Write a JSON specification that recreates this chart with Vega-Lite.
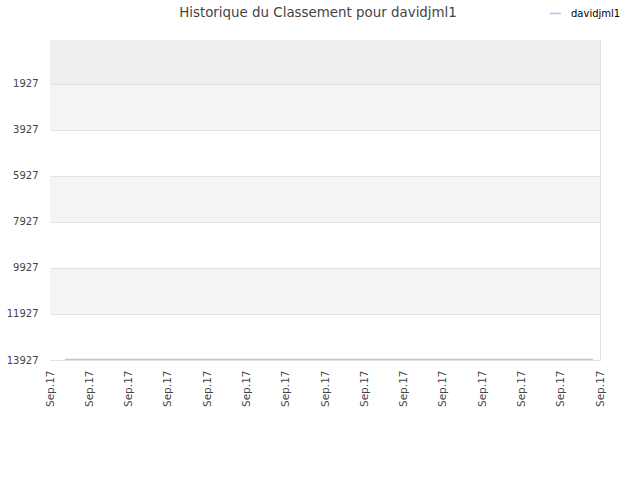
{
  "$schema": "https://vega.github.io/schema/vega-lite/v6.json",
  "autosize": {"type": "none"},
  "width": 550,
  "height": 320,
  "padding": {"left": 50, "top": 40, "right": 40, "bottom": 120},
  "background": "white",
  "config": {
    "view": {"stroke": "#dddddd", "strokeWidth": 1},
    "font": "DejaVu Sans"
  },
  "title": {
    "text": "Historique du Classement pour davidjml1",
    "anchor": "middle",
    "frame": "group",
    "dx": -7,
    "offset": -12,
    "fontSize": 13.4,
    "fontWeight": "normal",
    "color": "#444444",
    "font": "DejaVu Sans"
  },
  "resolve": {"scale": {"color": "independent"}},
  "layer": [
    {
      "data": {
        "values": [
          {"top": 14, "bottom": 1927, "band": "a"},
          {"top": 1927, "bottom": 3927, "band": "b"},
          {"top": 3927, "bottom": 5927, "band": "c"},
          {"top": 5927, "bottom": 7927, "band": "b"},
          {"top": 7927, "bottom": 9927, "band": "c"},
          {"top": 9927, "bottom": 11927, "band": "b"},
          {"top": 11927, "bottom": 13927, "band": "c"}
        ]
      },
      "mark": {"type": "rect", "strokeWidth": 0},
      "encoding": {
        "y": {
          "field": "top", "type": "quantitative",
          "scale": {"domain": [14, 13927], "reverse": true, "nice": false, "zero": false},
          "axis": {
            "values": [1927, 3927, 5927, 7927, 9927, 11927, 13927],
            "format": "d",
            "labelFontSize": 10,
            "labelColor": "#444444",
            "labelFont": "DejaVu Sans",
            "labelPadding": 12,
            "labelBaseline": "middle",
            "grid": true,
            "gridColor": "#e2e2e2",
            "gridWidth": 1,
            "ticks": false,
            "domain": false,
            "title": null,
            "zindex": 1
          }
        },
        "y2": {"field": "bottom"},
        "color": {"field": "band", "type": "nominal", "scale": {"domain": ["a", "b", "c"], "range": ["#eeeeee", "#f4f4f4", "#ffffff"]}, "legend": null}
      }
    },
    {
      "data": {
        "values": [
          {"t": 0.38, "rank": 13905, "joueur": "davidjml1"},
          {"t": 1, "rank": 13905, "joueur": "davidjml1"},
          {"t": 2, "rank": 13905, "joueur": "davidjml1"},
          {"t": 3, "rank": 13905, "joueur": "davidjml1"},
          {"t": 4, "rank": 13905, "joueur": "davidjml1"},
          {"t": 5, "rank": 13905, "joueur": "davidjml1"},
          {"t": 6, "rank": 13905, "joueur": "davidjml1"},
          {"t": 7, "rank": 13905, "joueur": "davidjml1"},
          {"t": 8, "rank": 13905, "joueur": "davidjml1"},
          {"t": 9, "rank": 13905, "joueur": "davidjml1"},
          {"t": 10, "rank": 13905, "joueur": "davidjml1"},
          {"t": 11, "rank": 13905, "joueur": "davidjml1"},
          {"t": 12, "rank": 13905, "joueur": "davidjml1"},
          {"t": 13, "rank": 13905, "joueur": "davidjml1"},
          {"t": 13.82, "rank": 13905, "joueur": "davidjml1"}
        ]
      },
      "mark": {"type": "line", "strokeWidth": 1.5, "clip": false},
      "encoding": {
        "x": {
          "field": "t", "type": "quantitative",
          "scale": {"domain": [0, 14], "nice": false, "zero": false},
          "axis": {
            "values": [0, 1, 2, 3, 4, 5, 6, 7, 8, 9, 10, 11, 12, 13, 14],
            "labelExpr": "'Sep.17'",
            "labelAngle": -90,
            "labelAlign": "right",
            "labelBaseline": "middle",
            "labelFontSize": 10.5,
            "labelColor": "#444444",
            "labelPadding": 10,
            "labelFont": "DejaVu Sans",
            "labelOverlap": false,
            "grid": false,
            "ticks": false,
            "domain": false,
            "title": null
          }
        },
        "y": {
          "field": "rank", "type": "quantitative",
          "scale": {"domain": [14, 13927], "reverse": true, "nice": false, "zero": false}
        },
        "color": {
          "field": "joueur", "type": "nominal",
          "scale": {"domain": ["davidjml1"], "range": ["#a6cbee"]},
          "legend": {
            "title": null,
            "orient": "none",
            "legendX": 499,
            "legendY": -33,
            "symbolType": "stroke",
            "symbolSize": 120,
            "symbolStrokeWidth": 1.5,
            "labelOffset": 9,
            "labelFontSize": 10,
            "labelColor": "#000000",
            "labelFont": "DejaVu Sans"
          }
        }
      }
    }
  ]
}
